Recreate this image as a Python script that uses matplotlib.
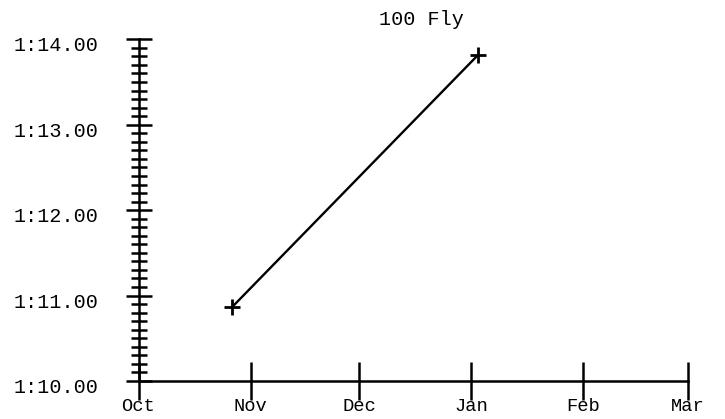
import matplotlib
matplotlib.use("Agg")
import matplotlib.pyplot as plt
import matplotlib.dates as mdates
import matplotlib.transforms as mtransforms
from matplotlib.ticker import FuncFormatter, MultipleLocator
import datetime as dt

title = "100 Fly"
dates = [dt.date(2023, 10, 27), dt.date(2024, 1, 3)]
times_sec = [70.87, 73.82]
x_start = dt.date(2023, 10, 1)
x_end = dt.date(2024, 3, 1)
y_min, y_max = 70.0, 74.0

plt.rcParams['font.family'] = ['Liberation Mono', 'DejaVu Sans Mono']

fig = plt.figure(figsize=(7.25, 4.19), dpi=100)
ax = fig.add_axes([138.5/725, 1-381/419, (688-138.5)/725, (381-39.3)/419])

ax.plot(dates, times_sec, color='black', linewidth=1.7, marker='+',
        markersize=11, markeredgewidth=2, clip_on=False)

ax.set_xlim(x_start, x_end)
ax.set_ylim(y_min, y_max)

for s in ['top', 'right']:
    ax.spines[s].set_visible(False)
for s in ['left', 'bottom']:
    ax.spines[s].set_linewidth(1.8)

ax.xaxis.set_major_locator(mdates.MonthLocator())
ax.xaxis.set_major_formatter(mdates.DateFormatter('%b'))
ax.yaxis.set_major_locator(MultipleLocator(1.0))
ax.yaxis.set_minor_locator(MultipleLocator(0.1))

def fmt(v, pos):
    m = int(v // 60)
    s = v - 60 * m
    return f"{m}:{s:05.2f}"
ax.yaxis.set_major_formatter(FuncFormatter(fmt))

ax.tick_params(axis='x', which='major', direction='inout', length=28, width=1.8,
               labelsize=13.5, pad=-1.5)
ax.tick_params(axis='y', which='major', direction='inout', length=19, width=1.8,
               labelsize=14.5, pad=19)
ax.tick_params(axis='y', which='minor', direction='inout', length=12, width=1.8)

offset = mtransforms.ScaledTranslation(0, -4.5/100, fig.dpi_scale_trans)
for lab in ax.get_yticklabels():
    lab.set_transform(lab.get_transform() + offset)

fig.text(421/725, 1-25/419, title, ha='center', va='baseline', fontsize=14.5)

fig.savefig('out.png', dpi=100)
